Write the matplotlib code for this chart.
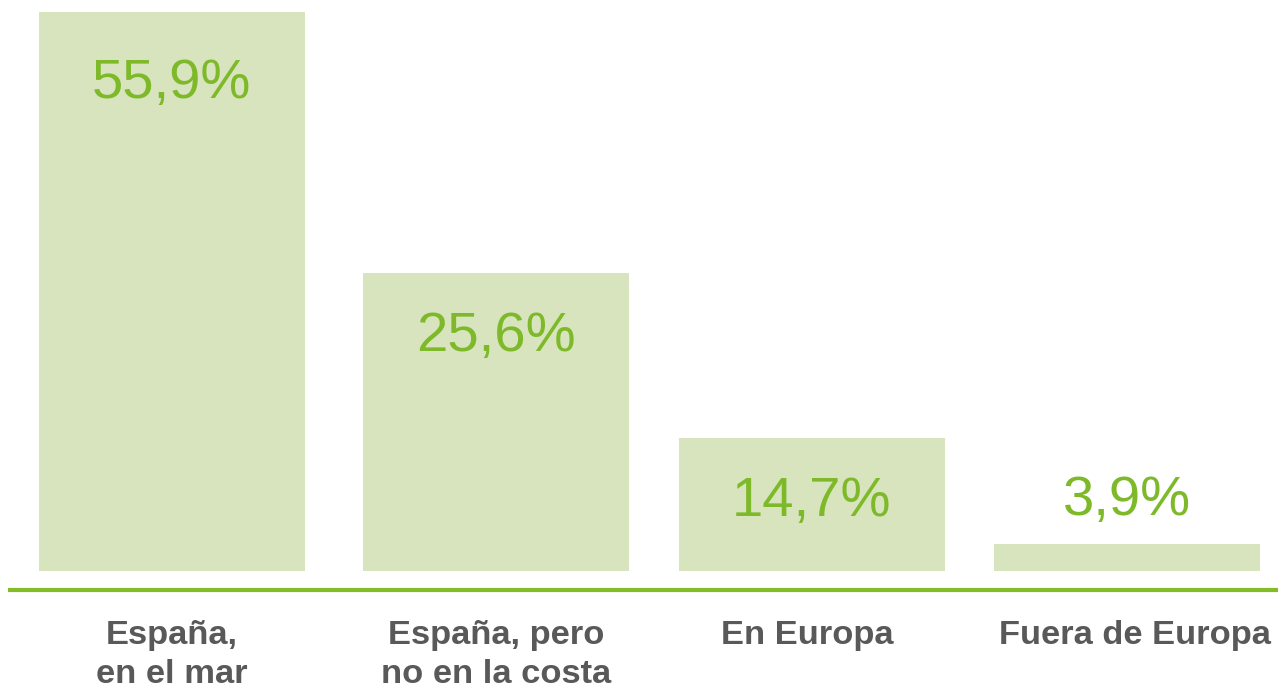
import matplotlib.pyplot as plt

# datos
categories = ['España,\nen el mar', 'España, pero\nno en la costa', 'En Europa', 'Fuera de Europa']
share_labels = ['55,9%', '25,6%', '14,7%', '3,9%']
# alturas de las barras tal como aparecen dibujadas (no son proporcionales)
bar_heights = [55.9, 29.8, 13.3, 2.7]

bar_color = '#D7E4BD'
green = '#7DB928'
line_green = '#84BC26'
grey = '#595959'

plt.rcParams['font.family'] = ['Liberation Sans', 'DejaVu Sans']

fig = plt.figure(figsize=(12.85, 6.91), dpi=100)
ax = fig.add_axes([0, 0, 1, 1])
ax.set_xlim(-0.540, 3.497)
ax.set_ylim(-12.0, 57.1)
ax.axis('off')

# posiciones de las barras (el original no esta espaciado de forma uniforme)
x = [0, 1.018, 2.01, 3.0]
ax.bar(x, bar_heights, width=0.836, color=bar_color, align='center')

# linea base verde
ax.hlines(-1.9, -0.515, 3.475, color=line_green, linewidth=3)

# etiquetas de valor
label_off = [-8.6, -7.8, -7.8, 2.9]
for xi, h, lab, off in zip(x, bar_heights, share_labels, label_off):
    ax.text(xi, h + off, lab, ha='center', va='baseline', fontsize=40.5, color=green)

# etiquetas de categoria
cat_dx = [0, 0, -0.013, 0.025]
for xi, cat, dx in zip(x, categories, cat_dx):
    ax.text(xi + dx, -4.9, cat, ha='center', va='top', fontsize=24.8,
            fontweight='bold', color=grey, linespacing=1.35)

fig.savefig('out.png', dpi=100)
